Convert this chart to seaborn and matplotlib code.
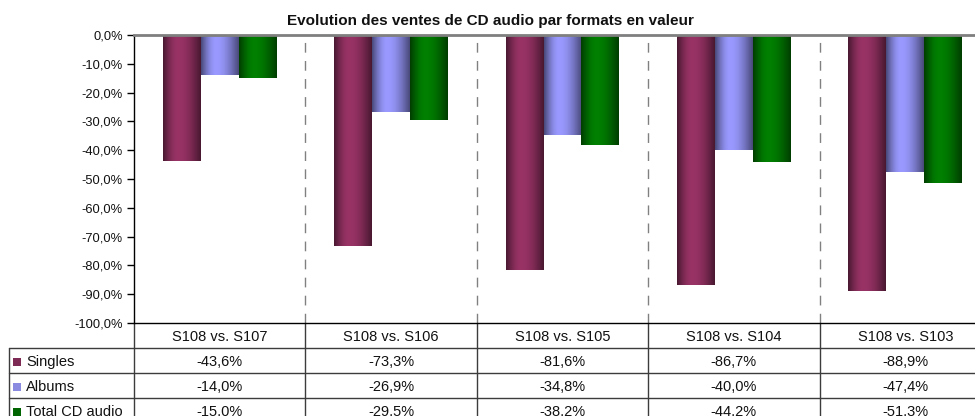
import numpy as np
import pandas as pd
import matplotlib
matplotlib.use("Agg")
import matplotlib.pyplot as plt
import matplotlib.colors as mcolors
from matplotlib import font_manager as fm
from matplotlib.patches import Rectangle
from matplotlib.lines import Line2D
import seaborn as sns

# ---------------- data ----------------
categories = ["S108 vs. S107", "S108 vs. S106", "S108 vs. S105", "S108 vs. S104", "S108 vs. S103"]
series_names = ["Singles", "Albums", "Total CD audio"]
singles = [-43.6, -73.3, -81.6, -86.7, -88.9]
albums = [-14.0, -26.9, -34.8, -40.0, -47.4]
total_cd = [-15.0, -29.5, -38.2, -44.2, -51.3]
y_ticks = [0, -10, -20, -30, -40, -50, -60, -70, -80, -90, -100]
title = "Evolution des ventes de CD audio par formats en valeur"

series_colors = ["#993366", "#9999FF", "#008000"]
key_colors = ["#7d2b55", "#8a8ae0", "#006400"]

values = [singles, albums, total_cd]
df = pd.DataFrame({
    "cat": categories * 3,
    "series": sum([[s] * len(categories) for s in series_names], []),
    "val": singles + albums + total_cd,
})

# ---------------- fonts ----------------
sns.set_theme(style="white")
avail = {f.name for f in fm.fontManager.ttflist}
base_font = "Liberation Sans" if "Liberation Sans" in avail else "DejaVu Sans"
title_font = "Liberation Sans Narrow" if "Liberation Sans Narrow" in avail else base_font
plt.rcParams["font.family"] = [base_font, "DejaVu Sans"]

W, H = 975, 416
fig = plt.figure(figsize=(W / 100, H / 100), dpi=100)
fig.patch.set_facecolor("white")

ax_l, ax_r, ax_t, ax_b = 134, 991, 35, 323
ax = fig.add_axes([ax_l / W, 1 - ax_b / H, (ax_r - ax_l) / W, (ax_b - ax_t) / H])
ax.set_facecolor("white")

sns.barplot(data=df, x="cat", y="val", hue="series", order=categories,
            hue_order=series_names, palette=series_colors, width=0.665,
            linewidth=0, legend=False, ax=ax, errorbar=None, saturation=1)

# cylinder-like gradient on bars
N = 64
t = np.linspace(0, 1, N)
peak = 0.4
s = np.where(t < peak, t / peak, (1 - t) / (1 - peak))
bright = 0.48 + 0.52 * np.sin(np.pi / 2 * s)
for j, cont in enumerate(ax.containers):
    base = np.array(mcolors.to_rgb(series_colors[j]))
    img = np.clip(bright[:, None] * base[None, :], 0, 1)[None, :, :]
    for p in cont.patches:
        x0, y0 = p.get_x(), p.get_y()
        w, h = p.get_width(), p.get_height()
        im = ax.imshow(img, extent=[x0, x0 + w, y0 + h, y0], aspect="auto",
                       interpolation="bilinear", zorder=3)
        im.set_clip_path(p)
        p.set_alpha(0)

ax.set_xlim(-0.5, len(categories) - 0.5)
ax.set_ylim(-100, 0)
ax.set_yticks(y_ticks)
ax.set_yticklabels([f"{v:.1f}%".replace(".", ",") for v in y_ticks], fontsize=9.3)
ax.set_xticks([])
ax.set_xlabel("")
ax.set_ylabel("")
ax.tick_params(axis="y", left=True, length=5, width=1, color="black", pad=3,
               direction="out", labelcolor="#111111")

for sp in ["left", "bottom"]:
    ax.spines[sp].set_color("black")
    ax.spines[sp].set_linewidth(1)
ax.spines["right"].set_visible(False)
ax.spines["top"].set_color("#7f7f7f")
ax.spines["top"].set_linewidth(2)
ax.spines["top"].set_zorder(5)

# dashed separators between categories
for i in range(len(categories) - 1):
    ax.axvline(i + 0.5, color="#808080", lw=1, ls=(0, (7, 6)), zorder=1)

# ---------------- data table ----------------
plot_h = ax_b - ax_t
row_h = 25 / plot_h
txt_off = 1.5 / plot_h
left_frac = -(ax_l - 9) / (ax_r - ax_l)
btrans = ax.get_xaxis_transform()
line_kw = dict(color="#3c3c3c", lw=1, clip_on=False)

for k in range(1, 4):
    ax.add_line(Line2D([left_frac, 1.0], [-k * row_h, -k * row_h],
                       transform=ax.transAxes, **line_kw))
for i in range(len(categories) + 1):
    ax.add_line(Line2D([i - 0.5, i - 0.5], [0, -5 * row_h], transform=btrans, **line_kw))
ax.add_line(Line2D([left_frac, left_frac], [-row_h, -5 * row_h],
                   transform=ax.transAxes, **line_kw))

tfs = 10.5
for i, c in enumerate(categories):
    ax.text(i, -0.5 * row_h - txt_off, c, transform=btrans, ha="center", va="center",
            fontsize=tfs, color="#111111", clip_on=False)
    for r, vals in enumerate(values):
        ax.text(i, -(r + 1.5) * row_h - txt_off, f"{vals[i]:.1f}%".replace(".", ","),
                transform=btrans, ha="center", va="center", fontsize=tfs,
                color="#111111", clip_on=False)

for r, name in enumerate(series_names):
    yc = 323 + 25 * (r + 1) + 12.5 + 1.5
    fig.add_artist(Rectangle((13 / W, 1 - (yc + 4) / H), 7.5 / W, 8 / H,
                             transform=fig.transFigure, facecolor=key_colors[r],
                             edgecolor="none"))
    fig.text(26 / W, 1 - yc / H, name, ha="left", va="center", fontsize=tfs,
             color="#111111")

fig.text(490 / W, 1 - 21 / H, title, ha="center", va="center", fontsize=11,
         fontweight="bold", family=[title_font, "DejaVu Sans"], color="#111111")

fig.savefig("out.png", dpi=100)
